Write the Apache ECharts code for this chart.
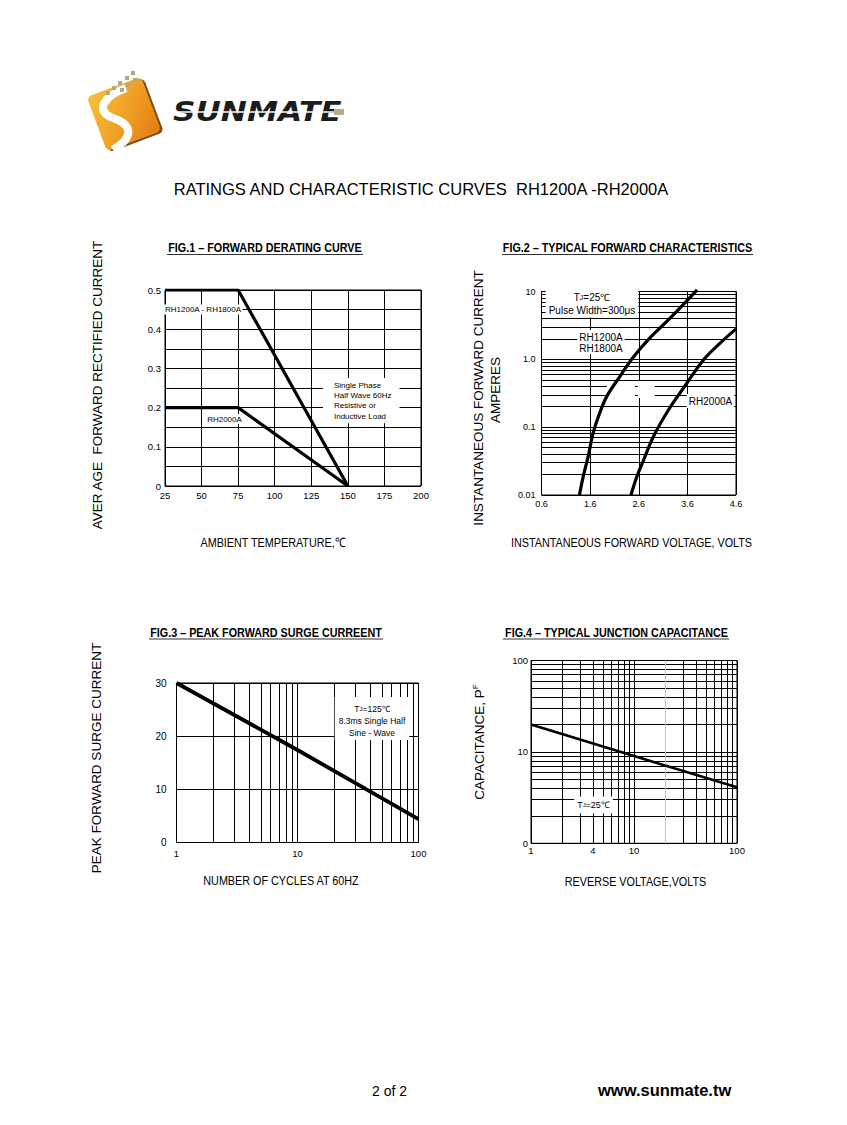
<!DOCTYPE html>
<html><head><meta charset="utf-8">
<script src="https://cdn.jsdelivr.net/npm/echarts@6/dist/echarts.min.js"></script>
<style>html,body{margin:0;padding:0;background:#fff}#c{width:847px;height:1125px}</style>
</head><body><div id="c"></div>
<script>
// ---------- DATA ----------
// Fig.1 forward derating curve
const fig1Temp = [25, 75, 150];
const fig1RH1200to1800 = [0.5, 0.5, 0];
const fig1RH2000 = [0.2, 0.2, 0];
const fig1YTicks = [0, 0.1, 0.2, 0.3, 0.4, 0.5];
const fig1YTickLabels = ['0', '0.1', '0.2', '0.3', '0.4', '0.5'];

// Fig.2 typical forward characteristics
const fig2VoltRH1200 = [1.38, 1.46, 1.56, 1.66, 1.77, 1.94, 2.21, 2.49, 2.83, 3.25, 3.80];
const fig2AmpRH1200  = [0.01, 0.019, 0.037, 0.081, 0.143, 0.282, 0.556, 1.08, 2.07, 4.08, 10.6];
const fig2VoltRH2000 = [2.44, 2.56, 2.70, 2.90, 3.21, 3.52, 3.93, 4.28, 4.60];
const fig2AmpRH2000  = [0.01, 0.0186, 0.0328, 0.0724, 0.179, 0.378, 0.98, 1.75, 2.81];
const fig2XTicks = [0.6, 1.6, 2.6, 3.6, 4.6];
const fig2XTickLabels = ['0.6', '1.6', '2.6', '3.6', '4.6'];
const fig2YTicks = [0.01, 0.1, 1, 10];
const fig2YTickLabels = ['0.01', '0.1', '1.0', '10'];

// Fig.3 peak forward surge current
const fig3Cycles = [1, 10, 100];
const fig3Amps = [30, 17.4, 4.4];
const fig3XTicks = [1, 10, 100];
const fig3XTickLabels = ['1', '10', '100'];

// Fig.4 typical junction capacitance
const fig4Volts = [1, 10, 100];
const fig4Cap = [20, 9, 4.1];
const fig4XTicks = [1, 4, 10, 100];
const fig4XTickLabels = ['1', '4', '10', '100'];
const fig4YTicks = [1, 10, 100];
const fig4YTickLabels = ['0', '10', '100'];

// ---------- HELPERS ----------
const FONT = 'Liberation Sans, Arial, Helvetica, sans-serif';
function pairs(xs, ys) { return xs.map((x, i) => [x, ys[i]]); }
function logGrid(lo, hi) {
  const out = [];
  for (let d = lo; d < hi * 0.999; d *= 10) {
    for (let k = 1; k < 10; k++) out.push(+(d * k).toPrecision(6));
  }
  out.push(hi);
  return out;
}
function labelFor(ticks, labels) {
  return function (v) {
    for (let i = 0; i < ticks.length; i++) {
      const t = ticks[i];
      if ((t === 0 && Math.abs(v) < 1e-9) || (t !== 0 && Math.abs(v / t - 1) < 1e-6)) return labels[i];
    }
    return '';
  };
}
const split = { show: true, lineStyle: { color: '#000', width: 1, type: 'solid' } };
// Fig.4 x grid: the 20 V line is printed light grey in the original
const fig4XSplitColors = logGrid(1, 100).map(v => (v === 20 ? '#c4c4c4' : '#000'));
function lbl(extra) { return Object.assign({ color: '#000', fontFamily: FONT, fontSize: 9 }, extra); }
const noLine = { show: false };
function grid(left, top, width, height) {
  return { left, top, width, height, show: true, borderColor: '#000', borderWidth: 1, backgroundColor: 'transparent', containLabel: false };
}
function txt(x, y, text, o) {
  o = o || {};
  return {
    type: 'text', x: x, y: y, z: o.z == null ? 1 : o.z, rotation: o.rotation || 0,
    scaleX: o.scaleX || 1, scaleY: 1,
    style: Object.assign({
      text: text, fill: '#000', fontFamily: FONT, fontSize: 12,
      align: o.align || 'center', verticalAlign: o.va || 'middle'
    }, o.style || {})
  };
}
function uline(x1, x2, y) {
  return { type: 'line', z: 1, shape: { x1: x1, y1: y, x2: x2, y2: y }, style: { stroke: '#333', lineWidth: 1 } };
}
function blank(x, y, w, h) {
  return { type: 'rect', z: 1, shape: { x: x, y: y, width: w, height: h }, style: { fill: '#fff' } };
}
function curve(xi, yi, data, w, extra) {
  return Object.assign({
    type: 'line', xAxisIndex: xi, yAxisIndex: yi, data: data, symbol: 'none', z: 5,
    lineStyle: { color: '#000', width: w }, silent: true
  }, extra || {});
}

const condensed = 0.83;

// ---------- LOGO ----------
const orange = new echarts.graphic.LinearGradient(0, 0, 1, 1, [
  { offset: 0, color: '#F5C23C' }, { offset: 0.6, color: '#EE9A22' }, { offset: 1, color: '#E27A12' }
]);
const mosaic = [[131, 71], [125, 76], [133, 78], [118, 81], [126, 83], [112, 86], [120, 88], [106, 91]];
const sStroke = { fill: null, stroke: '#fff', lineWidth: 8 };
const logo = [
  { type: 'group', x: 124, y: 114, rotation: 0.36, children: [
    { type: 'rect', shape: { x: -27, y: -27, width: 58, height: 58, r: 5 }, style: { fill: '#7b4e12' } },
    { type: 'rect', shape: { x: -29, y: -29, width: 58, height: 58, r: 5 }, style: { fill: orange } }
  ]},
  { type: 'bezierCurve', z: 2, shape: { x1: 126, y1: 88, cpx1: 104, cpy1: 96, cpx2: 94, cpy2: 111, x2: 113, y2: 118 }, style: sStroke },
  { type: 'bezierCurve', z: 2, shape: { x1: 113, y1: 118, cpx1: 133, cpy1: 125, cpx2: 134, cpy2: 137, x2: 113, y2: 150 }, style: sStroke }
].concat(mosaic.map(p => ({ type: 'rect', z: 2, shape: { x: p[0], y: p[1], width: 4, height: 4 }, style: { fill: '#a7ad86' } })))
.concat([
  txt(173, 111.5, 'SUNMATE', { align: 'left', scaleX: 1.2, style: { fontFamily: 'DejaVu Sans', fontWeight: 'bold', fontStyle: 'italic', fontSize: 26, fill: '#1c1c1c' } }),
  { type: 'line', z: 2, shape: { x1: 168, y1: 112, x2: 342, y2: 112 }, style: { stroke: '#fff', lineWidth: 1.6 } },
  { type: 'rect', z: 2, shape: { x: 334, y: 109, width: 10, height: 6 }, style: { fill: '#b9a98e' } }
]);

// ---------- TEXTS ----------
const texts = [
  txt(421, 189, 'RATINGS AND CHARACTERISTIC CURVES  RH1200A -RH2000A', { style: { fontSize: 16.5 } }),
  txt(372, 1091, '2 of 2', { align: 'left', style: { fontSize: 14 } }),
  txt(598, 1090, 'www.sunmate.tw', { align: 'left', style: { fontSize: 16.5, fontWeight: 'bold' } }),

  txt(265, 248, 'FIG.1 – FORWARD DERATING CURVE', { scaleX: condensed, style: { fontSize: 13, fontWeight: 'bold' } }),
  uline(167, 363, 254.5),
  txt(627.5, 248, 'FIG.2 – TYPICAL FORWARD CHARACTERISTICS', { scaleX: condensed, style: { fontSize: 13, fontWeight: 'bold' } }),
  uline(502, 753, 254.5),
  txt(266, 632.5, 'FIG.3 – PEAK FORWARD SURGE CURREENT', { scaleX: condensed, style: { fontSize: 13, fontWeight: 'bold' } }),
  uline(149, 383, 639),
  txt(616.5, 632.5, 'FIG.4 – TYPICAL JUNCTION CAPACITANCE', { scaleX: condensed, style: { fontSize: 13, fontWeight: 'bold' } }),
  uline(503, 729, 639),

  txt(97, 385, 'AVER AGE  FORWARD RECTIFIED CURRENT', { rotation: Math.PI / 2, style: { fontSize: 13.5 } }),
  txt(273, 543, 'AMBIENT TEMPERATURE,℃', { scaleX: condensed, style: { fontSize: 13 } }),
  txt(478, 398, 'INSTANTANEOUS FORWARD CURRENT', { rotation: Math.PI / 2, style: { fontSize: 13.5 } }),
  txt(495, 390, 'AMPERES', { rotation: Math.PI / 2, style: { fontSize: 13.5 } }),
  txt(631.5, 543, 'INSTANTANEOUS FORWARD VOLTAGE, VOLTS', { scaleX: condensed, style: { fontSize: 13 } }),
  txt(96, 758, 'PEAK FORWARD SURGE CURRENT', { rotation: Math.PI / 2, style: { fontSize: 13.5 } }),
  txt(281, 881, 'NUMBER OF CYCLES AT 60HZ', { scaleX: condensed, style: { fontSize: 13 } }),
  txt(479, 742, '{n|CAPACITANCE, P}{s|F}', { rotation: Math.PI / 2, style: { rich: {
    n: { fontSize: 13.5, fontFamily: FONT, fill: '#000', lineHeight: 16 },
    s: { fontSize: 8, fontFamily: FONT, fill: '#000', verticalAlign: 'top', lineHeight: 16, padding: [0, 0, 8, 0] } } } }),
  txt(635.5, 882, 'REVERSE VOLTAGE,VOLTS', { scaleX: condensed, style: { fontSize: 13 } }),

  txt(164, 309.5, 'RH1200A - RH1800A', { align: 'left', style: { fontSize: 8, backgroundColor: '#fff', padding: [1, 1] } }),
  txt(224.5, 419, 'RH2000A', { style: { fontSize: 8, backgroundColor: '#fff', padding: [1, 1] } }),
  txt(323, 378, 'Single Phase\nHalf Wave 60Hz\nResistive or\nInductive Load', { align: 'left', va: 'top',
    style: { fontSize: 8, lineHeight: 10.3, backgroundColor: '#fff', padding: [2, 8, 2, 11] } }),

  txt(592, 290.5, '{n|T}{s|J}{n|=25℃}\n{n|Pulse Width=300μs}', { va: 'top', style: {
    backgroundColor: '#fff', padding: [0, 3],
    rich: { n: { fontSize: 10, fontFamily: FONT, fill: '#000', lineHeight: 13.5 },
            s: { fontSize: 7, fontFamily: FONT, fill: '#000', lineHeight: 13.5 } } } }),
  txt(601, 330, 'RH1200A\nRH1800A', { va: 'top', style: { fontSize: 10, lineHeight: 11, backgroundColor: '#fff', padding: [1.5, 2, 0.5, 2] } }),
  txt(710.5, 401, 'RH2000A', { style: { fontSize: 10, lineHeight: 10, backgroundColor: '#fff', padding: [2, 2] } }),
  // blank patch in the original's grid (an erased label)
  blank(607, 381, 28, 17), blank(637.8, 381, 17, 17),

  txt(372, 697, '{n|T}{s|J}{n|=125℃}\n{n|8.3ms Single Half}\n{n|Sine - Wave}', { va: 'top', style: {
    backgroundColor: '#fff', padding: [6, 4, 1, 4],
    rich: { n: { fontSize: 8.5, fontFamily: FONT, fill: '#000', lineHeight: 12 },
            s: { fontSize: 6, fontFamily: FONT, fill: '#000', lineHeight: 12 } } } }),

  txt(593.5, 805, '{n|T}{s|J}{n|=25℃}', { style: {
    backgroundColor: '#fff', padding: [3, 3],
    rich: { n: { fontSize: 9, fontFamily: FONT, fill: '#000', lineHeight: 11 },
            s: { fontSize: 6, fontFamily: FONT, fill: '#000', lineHeight: 11 } } } })
];

// ---------- CHART ----------
const chart = echarts.init(document.getElementById('c'), null, { renderer: 'svg', width: 847, height: 1125 });
chart.setOption({
  animation: false,
  backgroundColor: '#fff',
  grid: [
    grid(165, 290, 256, 196),
    grid(541.5, 291.5, 194.5, 203.5),
    grid(176.5, 683, 242, 159.5),
    grid(531, 660.5, 206, 182.8)
  ],
  xAxis: [
    { gridIndex: 0, type: 'value', min: 25, max: 200, interval: 25, splitLine: split, axisLine: noLine, axisTick: noLine,
      axisLabel: lbl({ margin: 4, fontSize: 9.5 }) },
    { gridIndex: 1, type: 'value', min: 0.6, max: 4.6, splitLine: split, axisLine: noLine,
      axisTick: { show: false, customValues: fig2XTicks },
      axisLabel: lbl({ margin: 4, fontSize: 9, customValues: fig2XTicks, formatter: labelFor(fig2XTicks, fig2XTickLabels) }) },
    { gridIndex: 2, type: 'log', logBase: 10, min: 1, max: 100, splitLine: split, axisLine: noLine,
      axisTick: { show: false, customValues: logGrid(1, 100) },
      axisLabel: lbl({ margin: 6, fontSize: 9.5, customValues: fig3XTicks, formatter: labelFor(fig3XTicks, fig3XTickLabels) }) },
    { gridIndex: 3, type: 'log', logBase: 10, min: 1, max: 100, axisLine: noLine,
      splitLine: { show: true, lineStyle: { color: fig4XSplitColors, width: 1 } },
      axisTick: { show: false, customValues: logGrid(1, 100) },
      axisLabel: lbl({ margin: 2, fontSize: 9.5, customValues: fig4XTicks, formatter: labelFor(fig4XTicks, fig4XTickLabels) }) }
  ],
  yAxis: [
    { gridIndex: 0, type: 'value', min: 0, max: 0.5, interval: 0.05, splitLine: split, axisLine: noLine, axisTick: noLine,
      axisLabel: lbl({ margin: 4, fontSize: 9.5, formatter: labelFor(fig1YTicks, fig1YTickLabels) }) },
    { gridIndex: 1, type: 'log', logBase: 10, min: 0.01, max: 10, splitLine: split, axisLine: noLine,
      axisTick: { show: false, customValues: logGrid(0.01, 10) },
      axisLabel: lbl({ margin: 6, fontSize: 9, customValues: fig2YTicks, formatter: labelFor(fig2YTicks, fig2YTickLabels) }) },
    { gridIndex: 2, type: 'value', min: 0, max: 30, interval: 10, splitLine: split, axisLine: noLine, axisTick: noLine,
      axisLabel: lbl({ margin: 10, fontSize: 10 }) },
    { gridIndex: 3, type: 'log', logBase: 10, min: 1, max: 100, splitLine: split, axisLine: noLine,
      axisTick: { show: false, customValues: logGrid(1, 100) },
      axisLabel: lbl({ margin: 3, fontSize: 9.5, customValues: fig4YTicks, formatter: labelFor(fig4YTicks, fig4YTickLabels) }) }
  ],
  series: [
    curve(0, 0, pairs(fig1Temp, fig1RH1200to1800), 3.2),
    curve(0, 0, pairs(fig1Temp, fig1RH2000), 3.2),
    curve(1, 1, pairs(fig2VoltRH1200, fig2AmpRH1200), 3.2, { smooth: 0.35, clip: false }),
    curve(1, 1, pairs(fig2VoltRH2000, fig2AmpRH2000), 3.2, { smooth: 0.35 }),
    curve(2, 2, pairs(fig3Cycles, fig3Amps), 3.8),
    curve(3, 3, pairs(fig4Volts, fig4Cap), 2.6)
  ],
  graphic: { elements: logo.concat(texts) }
});
</script>
</body></html>
